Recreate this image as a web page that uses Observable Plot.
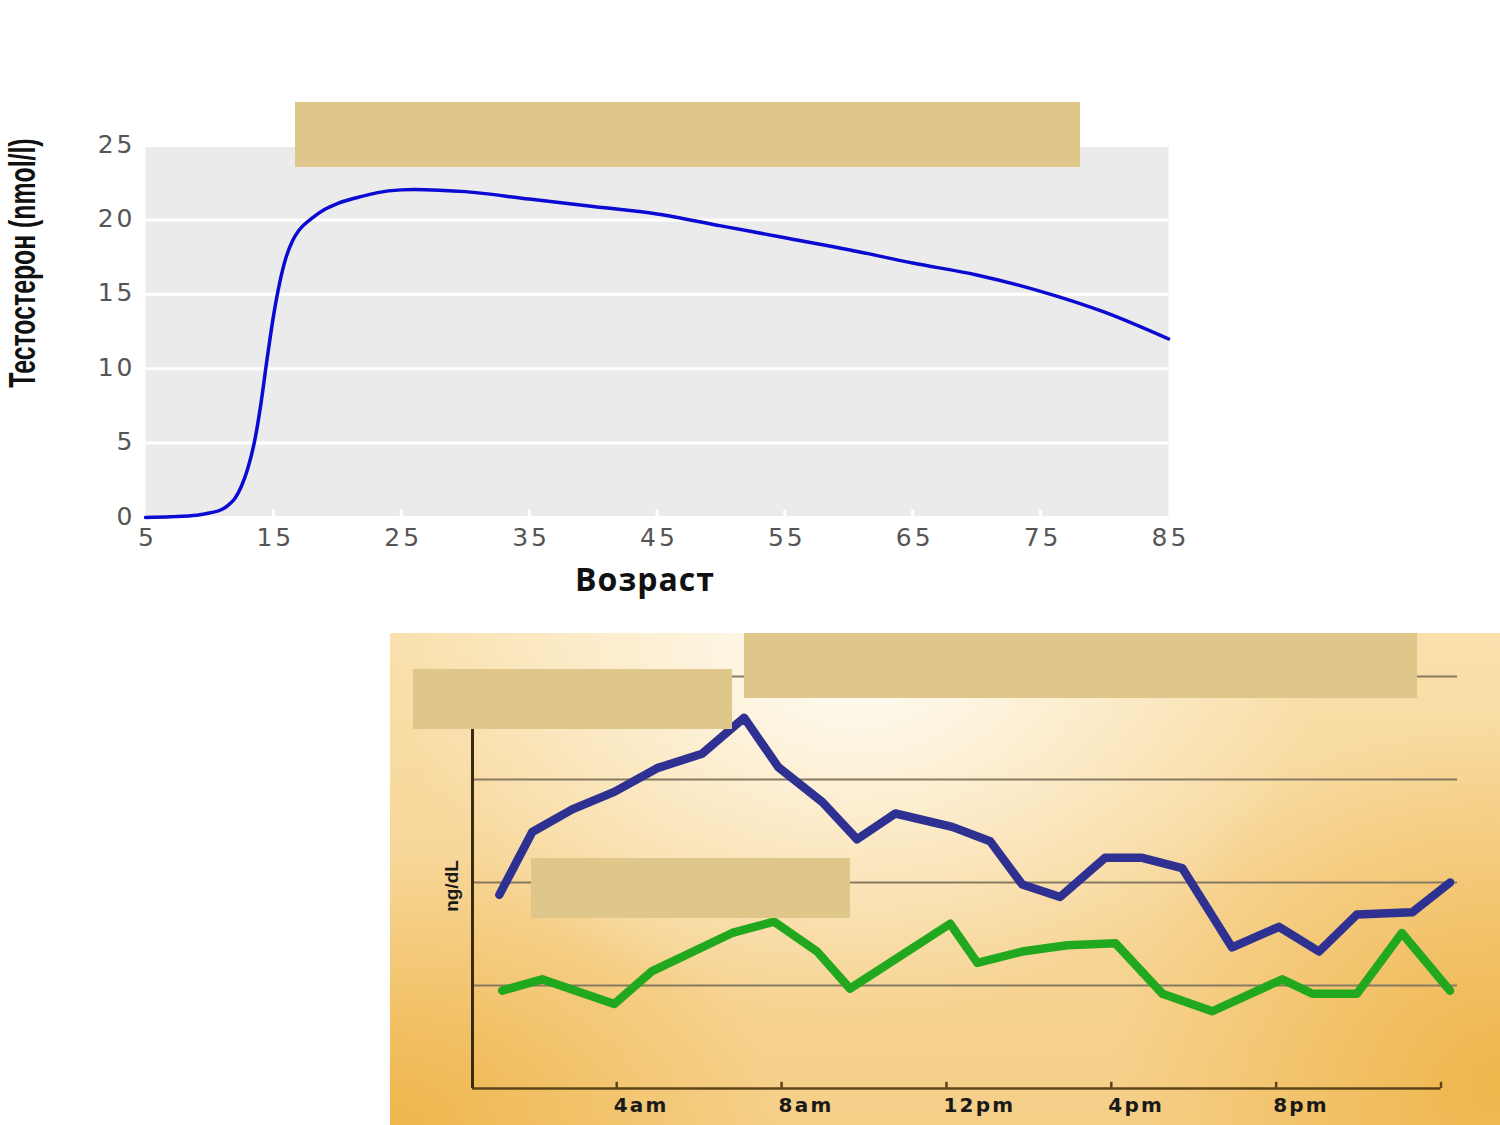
<!DOCTYPE html>
<html><head><meta charset="utf-8">
<script src="https://cdn.jsdelivr.net/npm/d3@7"></script>
<script src="https://cdn.jsdelivr.net/npm/@observablehq/plot@0.6"></script>
<style>
body{margin:0;background:#fff;width:1500px;height:1125px;position:relative;overflow:hidden;font-family:"DejaVu Sans",sans-serif}
#top{position:absolute;left:0;top:0}
#top g[aria-label="y-axis tick label"] text, #top g[aria-label="x-axis tick label"] text{letter-spacing:3px;font-size:25px !important}
#bottom g[aria-label="x-axis tick label"] text{letter-spacing:2.2px}
#bottom{position:absolute;left:390px;top:633px;width:1110px;height:492px;
  background:
    radial-gradient(ellipse 42% 75% at 42% 3%, rgba(255,253,248,1) 0%, rgba(255,250,238,0.6) 45%, rgba(255,248,230,0) 100%),
    radial-gradient(ellipse 35% 55% at 0% 100%, rgba(238,180,72,0.95) 0%, rgba(238,180,72,0) 100%),
    radial-gradient(ellipse 35% 75% at 100% 92%, rgba(238,180,72,0.95) 0%, rgba(238,180,72,0) 100%),
    linear-gradient(to bottom, #f9e0ac 0%, #f7d697 50%, #f5cf88 100%);}
#bottom svg{position:absolute;left:0;top:0}
.box{position:absolute;background:#dfc68b;z-index:5}
#ylabTop{position:absolute;left:23px;top:263px;transform:translate(-50%,-50%) rotate(-90deg) scale(0.8,1.2);
  font-family:"Liberation Sans Narrow",sans-serif;font-weight:bold;font-size:31px;white-space:nowrap;color:#111}
#xlabTop{position:absolute;left:645px;top:578px;transform:translate(-50%,-50%);
  font-family:"Open Sans",sans-serif;font-weight:700;font-size:32px;letter-spacing:1px;white-space:nowrap;color:#111}
#ylabBot{position:absolute;left:452px;top:886px;transform:translate(-50%,-50%) rotate(-90deg);
  font-family:"Liberation Sans",sans-serif;font-weight:bold;font-size:19px;white-space:nowrap;color:#1a1a1a;z-index:3}
</style>
</head><body>
<div id="top"></div>
<div id="bottom"></div>
<div id="ylabTop">Тестостерон (nmol/l)</div>
<div id="xlabTop">Возраст</div>
<div id="ylabBot">ng/dL</div>
<div class="box" style="left:295px;top:102px;width:785px;height:65px"></div>
<div class="box" style="left:413px;top:669px;width:319px;height:60px"></div>
<div class="box" style="left:744px;top:633px;width:673px;height:65px"></div>
<div class="box" style="left:531px;top:858px;width:319px;height:60px"></div>
<script>
// ---- Top chart: testosterone by age ----
const ages = [5,7,9,10,11,11.5,12,12.5,13,13.5,14,14.5,15,15.5,16,16.5,17,18,19,20,22,24,26,28,30,35,40,45,50,55,60,65,70,75,80,85];
const testosterone = [0,0.05,0.15,0.3,0.55,0.85,1.3,2.1,3.3,5.0,7.5,10.6,13.5,15.8,17.5,18.6,19.3,20.1,20.7,21.1,21.6,21.95,22.05,22.0,21.9,21.4,20.9,20.4,19.6,18.8,18.0,17.1,16.3,15.2,13.8,12.0];
const ageTicks = [5,15,25,35,45,55,65,75,85];
const levelTicks = [0,5,10,15,20,25];

const topData = ages.map((a,i)=>({age:a, t:testosterone[i]}));

const topPlot = Plot.plot({
  width: 1200, height: 610,
  marginLeft: 145, marginRight: 32, marginTop: 145, marginBottom: 93,
  style: {fontFamily: "DejaVu Sans, sans-serif", fontSize: "24px", color: "#555", background: "transparent"},
  x: {domain: [5, 85], ticks: ageTicks, label: null},
  y: {domain: [0, 25], ticks: levelTicks, label: null},
  marks: [
    Plot.frame({fill: "#ebebeb", stroke: null}),
    Plot.gridY(levelTicks, {stroke: "#fff", strokeOpacity: 1, strokeWidth: 3}),
    Plot.ruleX(ageTicks.slice(1, -1), {y1: 0, y2: 0.5, stroke: "#fff", strokeWidth: 3}),
    Plot.axisY(levelTicks, {tickSize: 0, tickPadding: 10, fill: "#555", dy: -1}),
    Plot.axisX(ageTicks, {tickSize: 0, tickPadding: 11, fill: "#555", dx: 2, dy: 0}),
    Plot.line(topData, {x: "age", y: "t", curve: "monotone-x", stroke: "#0a0ad2", strokeWidth: 3.5})
  ]
});
document.getElementById("top").appendChild(topPlot);

// ---- Bottom chart: daily rhythm ----
const blueHours = [1.15,1.95,2.92,3.94,4.98,6.07,7.09,7.92,8.99,9.83,10.76,12.14,13.06,13.84,14.76,15.85,16.75,17.72,18.93,20.07,21.04,21.96,23.3,24.22];
const blueValues = [188,249,271,288,311,325,360,312,278,242,267,254,240,198,186,224,224,214,137,157,133,169,171,200];
const greenHours = [1.22,2.19,3.94,4.86,6.80,7.82,8.86,9.66,12.09,12.75,13.84,14.93,16.10,17.24,18.45,20.15,20.88,21.96,23.05,24.22];
const greenValues = [95,106,82,114,151,162,133,97,160,122,133,139,141,92,75,106,92,92,151,95];
const hourTicks = [4,8,12,16,20,24];
const hourLabels = {4:"4am", 8:"8am", 12:"12pm", 16:"4pm", 20:"8pm", 24:""};
const gridValues = [100,200,300,400];

const blue = blueHours.map((h,i)=>({h, v: blueValues[i]}));
const green = greenHours.map((h,i)=>({h, v: greenValues[i]}));

const botPlot = Plot.plot({
  width: 1110, height: 492,
  marginLeft: 82, marginRight: 43, marginTop: 43, marginBottom: 37,
  style: {background: "transparent", fontFamily: "DejaVu Sans, sans-serif"},
  x: {domain: [0.5, 24.4], label: null},
  y: {domain: [0, 400], label: null, axis: null},
  marks: [
    Plot.gridY(gridValues, {stroke: "#877a62", strokeOpacity: 1, strokeWidth: 2}),
    Plot.ruleY([0], {x1: 0.5, x2: 24, stroke: "#5e4519", strokeWidth: 2.5}),
    Plot.ruleX([0.5], {y1: 0, y2: 400, stroke: "#3a2a0e", strokeWidth: 3}),
    Plot.ruleX(hourTicks, {y1: 0, y2: 6, stroke: "#5e4519", strokeWidth: 2.5}),
    Plot.axisX(hourTicks, {tickSize: 0, tickPadding: 9, tickFormat: d => hourLabels[d], textAnchor: "start", dx: -3, fontSize: 20, fontWeight: "bold", fill: "#1a1a1a"}),
    Plot.line(green, {x: "h", y: "v", stroke: "#22a81e", strokeWidth: 8.5, strokeLinejoin: "round", strokeLinecap: "round"}),
    Plot.line(blue, {x: "h", y: "v", stroke: "#2e3192", strokeWidth: 8.5, strokeLinejoin: "round", strokeLinecap: "round"})
  ]
});
document.getElementById("bottom").appendChild(botPlot);
</script>
</body></html>
